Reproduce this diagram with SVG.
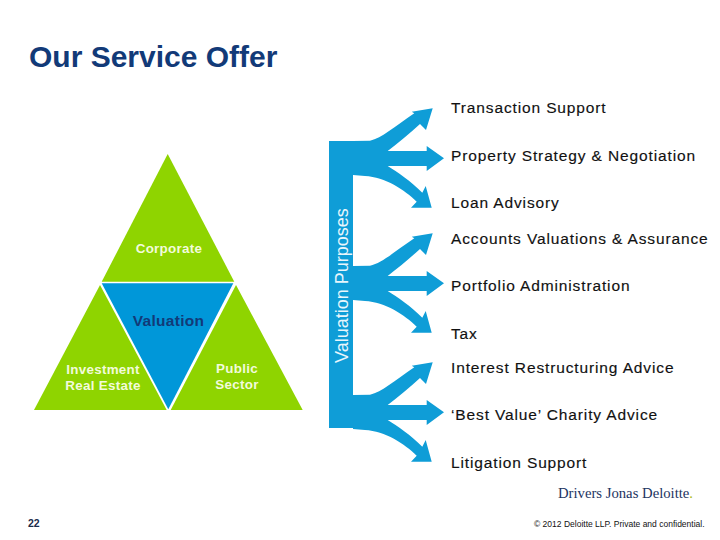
<svg xmlns="http://www.w3.org/2000/svg" width="720" height="540" viewBox="0 0 720 540">
<style>
text{font-family:"Liberation Sans",Arial,sans-serif}
text.s{font-family:"Liberation Serif","Times New Roman",serif}
.t{font-size:15.5px;fill:#111;letter-spacing:.87px;stroke:#111;stroke-width:.15px}
.w{font-size:13.4px;fill:#f2fbdc;font-weight:bold;letter-spacing:.3px;text-anchor:middle}
.g{fill:#8fd400}
.b{fill:#0f9dd7}
</style>
<defs>
<path id="fan" d="M353 141L370 140.700C382 138 394 127 414.300 113.300L411.700 111.700L432.700 108.300L426 130L420 124C410 133 398 143 387.700 151L426.700 151L426.700 146L444 158.300L426.700 171L426.700 166L387.700 166C396 171 412 182 422.300 192.700L425.700 186L431.700 207.700L411 207.700L416.700 201.700C405 190 385 177 365 176L353 175Z"/>
</defs>
<rect width="720" height="540" fill="#fff"/>
<text x="29" y="67" font-size="30" font-weight="bold" fill="#123a78">Our Service Offer</text>
<g id="triangle-corporate"><polygon class="g" points="167.7,154 101.7,281.7 234.3,281.7"/><text class="w" x="169" y="253">Corporate</text></g>
<g id="triangle-valuation"><polygon points="101.7,283.3 233.3,283.3 168.3,409.3" fill="#0097d9"/><text x="168.500" y="326" font-size="15.500" font-weight="bold" fill="#123a78" text-anchor="middle" letter-spacing=".3">Valuation</text></g>
<g id="triangle-investment"><polygon class="g" points="100,285 34,410 166.7,410"/><text class="w" x="103" y="374">Investment</text><text class="w" x="103" y="390">Real Estate</text></g>
<g id="triangle-public"><polygon class="g" points="236,285 170.7,410 302.7,410"/><text class="w" x="237" y="373">Public</text><text class="w" x="237" y="389">Sector</text></g>
<g id="connectors" class="b">
<rect x="329" y="141" width="24" height="287"/>
<use href="#fan"/>
<use href="#fan" y="125"/>
<use href="#fan" y="254"/>
</g>
<text transform="translate(348 363) rotate(-90)" font-size="18" fill="#e8f6fc">Valuation Purposes</text>
<g id="labels">
<text class="t" x="451" y="113">Transaction Support</text>
<text class="t" x="451" y="160.500">Property Strategy &amp; Negotiation</text>
<text class="t" x="451" y="208">Loan Advisory</text>
<text class="t" x="451" y="244">Accounts Valuations &amp; Assurance</text>
<text class="t" x="451" y="291">Portfolio Administration</text>
<text class="t" x="451" y="339">Tax</text>
<text class="t" x="451" y="373">Interest Restructuring Advice</text>
<text class="t" x="451" y="420">‘Best Value’ Charity Advice</text>
<text class="t" x="451" y="468">Litigation Support</text>
</g>
<text class="s" x="558" y="498" font-size="14.700" fill="#1d3461">Drivers Jonas Deloitte<tspan fill="#a8b820">.</tspan></text>
<text x="28" y="527" font-size="10.500" font-weight="bold" fill="#1a2a4a">22</text>
<text x="534" y="527" font-size="8.500" fill="#111">© 2012 Deloitte LLP. Private and confidential.</text>
</svg>
